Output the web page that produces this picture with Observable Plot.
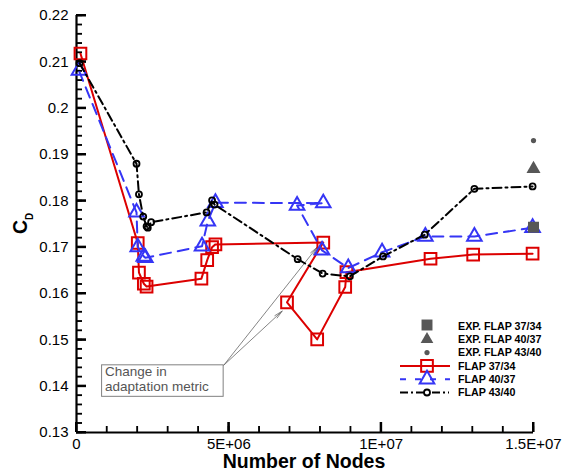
<!DOCTYPE html>
<html><head><meta charset="utf-8">
<script src="https://cdn.jsdelivr.net/npm/d3@7"></script>
<script src="https://cdn.jsdelivr.net/npm/@observablehq/plot@0.6"></script>
<style>
body{margin:0;background:#fff;}
#chart{width:568px;height:474px;}
svg{font-family:"Liberation Sans",Arial,Helvetica,sans-serif;}
</style></head><body><div id="chart"></div>
<script>
// FLAP 37/34 (red, squares)
const flap3734X = [0.13e6, 2.01e6, 2.05e6, 2.21e6, 2.30e6, 4.10e6, 4.29e6, 4.45e6, 4.56e6, 8.10e6, 6.91e6, 7.90e6, 8.82e6, 8.86e6, 11.62e6, 13.02e6, 14.97e6];
const flap3734Y = [0.2118, 0.1709, 0.1645, 0.1621, 0.1615, 0.1632, 0.1672, 0.1700, 0.1706, 0.1710, 0.1581, 0.1501, 0.1614, 0.1646, 0.1675, 0.1684, 0.1686];
// FLAP 40/37 (blue, triangles)
const flap4037X = [0.08e6, 1.97e6, 2.01e6, 2.21e6, 2.26e6, 4.12e6, 4.31e6, 4.56e6, 8.10e6, 7.24e6, 8.06e6, 8.92e6, 10.03e6, 11.45e6, 13.06e6, 14.97e6];
const flap4037Y = [0.2081, 0.1775, 0.1700, 0.1680, 0.1677, 0.1702, 0.1756, 0.1796, 0.1795, 0.1790, 0.1693, 0.1655, 0.1689, 0.1723, 0.1723, 0.1742];
// FLAP 43/40 (black, circles)
const flap4340X = [0.10e6, 1.97e6, 2.05e6, 2.19e6, 2.30e6, 2.34e6, 2.45e6, 4.27e6, 4.45e6, 4.53e6, 7.26e6, 8.08e6, 8.97e6, 10.06e6, 11.43e6, 13.06e6, 14.97e6];
const flap4340Y = [0.2097, 0.1880, 0.1814, 0.1766, 0.1745, 0.1742, 0.1754, 0.1775, 0.1801, 0.1792, 0.1674, 0.1643, 0.1637, 0.1680, 0.1727, 0.1826, 0.1831];
// Experimental values
const expX = [15e6, 15e6, 15e6];
const expY = [0.1743, 0.1869, 0.193];
const expLabels = ["EXP. FLAP 37/34", "EXP. FLAP 40/37", "EXP. FLAP 43/40"];
const seriesLabels = ["FLAP 37/34", "FLAP 40/37", "FLAP 43/40"];
// Ticks
const yMajorTicks = [0.13, 0.14, 0.15, 0.16, 0.17, 0.18, 0.19, 0.20, 0.21, 0.22];
const yTickLabels = ["0.13", "0.14", "0.15", "0.16", "0.17", "0.18", "0.19", "0.2", "0.21", "0.22"];
const yMinorTicks = d3.range(0, 46).map(i => 0.13 + i * 0.002);
const xMajorTicks = [0, 5e6, 1e7, 1.5e7];
const xTickLabels = ["0", "5E+06", "1E+07", "1.5E+07"];
const xMinorTicks = d3.range(0, 16).map(i => i * 1e6);
// Annotation
const noteText = ["Change in", "adaptation metric"];
const noteBox = [0.84e6, 4.83e6, 0.1377, 0.1445];
const noteArrowEndsX = [7.90e6, 6.75e6];
const noteArrowEndsY = [0.1700, 0.1562];

const W = 568, H = 474, ML = 76, MR = 35, MT = 15, MB = 42;
const FW = W - ML - MR, FH = H - MT - MB;
const RED = "#dc0000", BLUE = "#3535f5", BLACK = "#000", GRAY = "#575757";
const rows = (xs, ys) => xs.map((x, i) => ({x, y: ys[i]}));
const red = rows(flap3734X, flap3734Y);
const blue = rows(flap4037X, flap4037Y);
const black = rows(flap4340X, flap4340Y);
const exp = rows(expX, expY);
const fmtY = d => yTickLabels[yMajorTicks.findIndex(v => Math.abs(v - d) < 1e-9)];
const fmtX = d => xTickLabels[xMajorTicks.findIndex(v => Math.abs(v - d) < 1)];
const arrows = noteArrowEndsX.map((x, i) => ({x1: noteBox[1], y1: noteBox[3], x2: x, y2: noteArrowEndsY[i]}));

const chart = Plot.plot({
  width: W, height: H,
  marginLeft: ML, marginRight: MR, marginTop: MT, marginBottom: MB,
  x: {domain: [0, 1.5e7]},
  y: {domain: [0.13, 0.22]},
  style: {fontFamily: '"Liberation Sans", Arial, Helvetica, sans-serif', fontSize: "15px", background: "#fff"},
  marks: [
    Plot.axisY({ticks: yMajorTicks, tickSize: 0, tickPadding: 8, tickFormat: fmtY, label: null, fontSize: 15, fill: "#000"}),
    Plot.axisX({ticks: xMajorTicks, tickSize: 0, tickPadding: 6, tickFormat: fmtX, label: null, fontSize: 15, fill: "#000"}),
    Plot.tickY(yMinorTicks, {y: d => d, insetRight: FW - 6, stroke: "#000", strokeWidth: 1.3}),
    Plot.tickY(yMajorTicks, {y: d => d, insetRight: FW - 10, stroke: "#000", strokeWidth: 2}),
    Plot.tickX(xMinorTicks, {x: d => d, insetTop: FH - 6, stroke: "#000", strokeWidth: 1.3}),
    Plot.tickX(xMajorTicks, {x: d => d, insetTop: FH - 10, stroke: "#000", strokeWidth: 2}),
    Plot.ruleX([0], {stroke: "#000", strokeWidth: 2.2}),
    Plot.ruleY([0.13], {stroke: "#000", strokeWidth: 2.2}),
    // annotation
    Plot.arrow(arrows, {x1: "x1", y1: "y1", x2: "x2", y2: "y2", stroke: "#666", strokeWidth: 0.8, headLength: 16, headAngle: 22}),
    Plot.rect([noteBox], {x1: d => d[0], x2: d => d[1], y1: d => d[2], y2: d => d[3], fill: "#fff", stroke: "#808080", strokeWidth: 1}),
    Plot.text([noteBox], {x: d => d[0], y: d => d[3], text: () => noteText.join("\n"), textAnchor: "start", lineAnchor: "top", dx: 3, dy: 1, fontSize: 13.5, lineHeight: 1.06, fill: "#555"}),
    // series
    Plot.line(red, {x: "x", y: "y", stroke: RED, strokeWidth: 2}),
    Plot.dot(red, {x: "x", y: "y", symbol: "square", r: 6.6, stroke: RED, strokeWidth: 2, fill: "none"}),
    Plot.line(blue, {x: "x", y: "y", stroke: BLUE, strokeWidth: 2, strokeDasharray: "11,7"}),
    Plot.dot(blue, {x: "x", y: "y", symbol: "triangle", r: 5.4, stroke: BLUE, strokeWidth: 2, fill: "none"}),
    Plot.line(black, {x: "x", y: "y", stroke: BLACK, strokeWidth: 2, strokeDasharray: "9,4,2,4"}),
    Plot.dot(black, {x: "x", y: "y", r: 3, stroke: BLACK, strokeWidth: 1.8, fill: "none"}),
    // experiments
    Plot.dot([exp[0]], {x: "x", y: "y", symbol: "square", r: 6.2, fill: GRAY}),
    Plot.dot([exp[1]], {x: "x", y: "y", symbol: "triangle", r: 5.2, fill: GRAY}),
    Plot.dot([exp[2]], {x: "x", y: "y", r: 2.6, fill: GRAY})
  ]
});
document.getElementById("chart").appendChild(chart);

const svg = d3.select(chart);
// inward tick marks drawn last, positioned through Plot's own scales
const sx = chart.scale("x"), sy = chart.scale("y");
const x0px = sx.apply(0), y0px = sy.apply(0.13);
const tg = svg.append("g");
const addLine = (x1, y1, x2, y2, w) => tg.append("line")
  .attr("x1", x1).attr("y1", y1).attr("x2", x2).attr("y2", y2)
  .attr("stroke", "#000").attr("stroke-width", w).style("stroke", "#000");
yMinorTicks.forEach(v => addLine(x0px, sy.apply(v), x0px + 6, sy.apply(v), 1.3));
yMajorTicks.forEach(v => addLine(x0px, sy.apply(v), x0px + 10, sy.apply(v), 2));
xMinorTicks.forEach(v => addLine(sx.apply(v), y0px, sx.apply(v), y0px - 6, 1.3));
xMajorTicks.forEach(v => addLine(sx.apply(v), y0px, sx.apply(v), y0px - 10, 2));

// axis titles
svg.append("text").attr("x", 304).attr("y", 468).attr("text-anchor", "middle")
  .attr("font-size", 19.5).attr("font-weight", "bold").attr("fill", "#000").text("Number of Nodes");
const yl = svg.append("text").attr("transform", "translate(27,234) rotate(-90)").attr("text-anchor", "start")
  .attr("font-size", 19.5).attr("font-weight", "bold").attr("fill", "#000");
yl.append("tspan").text("C");
yl.append("tspan").attr("font-size", 10).attr("dy", 6).text("D");

// legend
const lg = svg.append("g").attr("font-size", 10.7).attr("font-weight", "bold").attr("text-anchor", "start");
const mx = 427, tx = 458, ly0 = 326, dyRow = 13.3;
const sym = (type, size) => d3.symbol(type, size)();
const labelsAll = expLabels.concat(seriesLabels);
labelsAll.forEach((t, i) => {
  lg.append("text").attr("x", tx).attr("y", ly0 + i * dyRow).attr("dy", "0.36em").attr("fill", "#000").text(t);
});
lg.append("path").attr("d", sym(d3.symbolSquare, 120)).attr("transform", `translate(${mx},${ly0 - 1})`).attr("fill", GRAY);
lg.append("path").attr("d", sym(d3.symbolTriangle, 70)).attr("transform", `translate(${mx},${ly0 + dyRow})`).attr("fill", GRAY);
lg.append("circle").attr("cx", mx).attr("cy", ly0 + 2 * dyRow).attr("r", 2.6).attr("fill", GRAY);
const ly3 = ly0 + 3 * dyRow, ly4 = ly0 + 4 * dyRow, ly5 = ly0 + 5 * dyRow;
lg.append("line").attr("x1", 400).attr("x2", 450).attr("y1", ly3).attr("y2", ly3).attr("stroke", RED).attr("stroke-width", 2);
lg.append("path").attr("d", sym(d3.symbolSquare, 137)).attr("transform", `translate(${mx},${ly3})`).attr("fill", "none").attr("stroke", RED).attr("stroke-width", 2);
lg.append("line").attr("x1", 400).attr("x2", 450).attr("y1", ly4).attr("y2", ly4).attr("stroke", BLUE).attr("stroke-width", 2).attr("stroke-dasharray", "6,9");
lg.append("path").attr("d", sym(d3.symbolTriangle, 92)).attr("transform", `translate(${mx},${ly4})`).attr("fill", "none").attr("stroke", BLUE).attr("stroke-width", 2);
lg.append("line").attr("x1", 400).attr("x2", 449).attr("y1", ly5).attr("y2", ly5).attr("stroke", BLACK).attr("stroke-width", 2).attr("stroke-dasharray", "8,3,2,3");
lg.append("circle").attr("cx", mx).attr("cy", ly5).attr("r", 3).attr("fill", "#fff").attr("stroke", BLACK).attr("stroke-width", 1.8);
</script></body></html>
